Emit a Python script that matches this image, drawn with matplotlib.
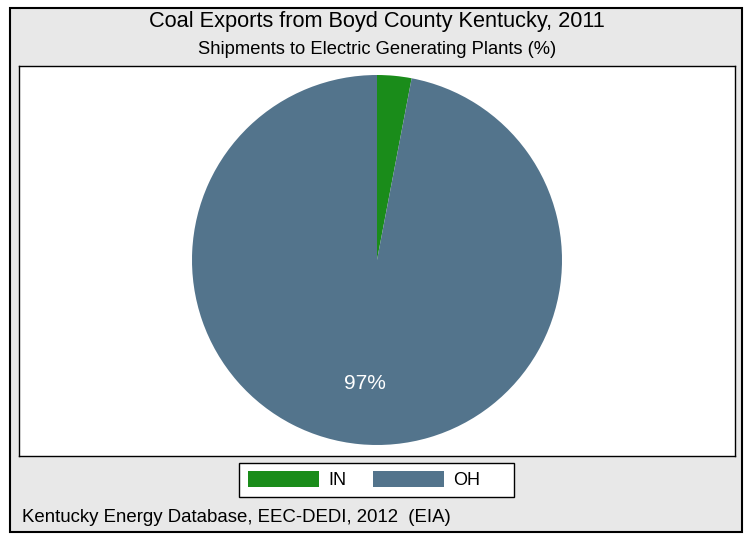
import matplotlib
matplotlib.use("Agg")
import matplotlib.pyplot as plt
from matplotlib.patches import Rectangle, Patch

states = ["IN", "OH"]
shares = [3, 97]
colors = ["#1a8c1a", "#53748c"]
title = "Coal Exports from Boyd County Kentucky, 2011"
subtitle = "Shipments to Electric Generating Plants (%)"
footnote = "Kentucky Energy Database, EEC-DEDI, 2012  (EIA)"

plt.rcParams['font.family'] = ['Liberation Sans', 'DejaVu Sans']
W, H = 745, 534
fig = plt.figure(figsize=(W/100, H/100), dpi=100)
fig.patch.set_facecolor("white")

# outer gray frame
fig.patches.append(Rectangle((10/W, 2/H), 732/W, 524/H, transform=fig.transFigure,
                             facecolor="#e8e8e8", edgecolor="black", linewidth=1.5, zorder=-5))
# legend box
fig.patches.append(Rectangle((239/W, 1-497/H), 275/W, 34/H, transform=fig.transFigure,
                             facecolor="white", edgecolor="black", linewidth=1.0, zorder=-4))

fig.text(377/W, 1-22/H, title, ha="center", va="center", fontsize=15.7)
fig.text(377/W, 1-49/H, subtitle, ha="center", va="center", fontsize=13.2)
fig.text(22/W, 1-518/H, footnote, ha="left", va="center", fontsize=13.4)

pl, pr, pt, pb = 19, 735, 66, 456
ax = fig.add_axes([pl/W, 1-pb/H, (pr-pl)/W, (pb-pt)/H])
ax.set_zorder(1)

def fmt(p):
    return f"{p:.0f}%" if p > 50 else ""

wedges, texts, autotexts = ax.pie(shares, colors=colors, startangle=90, counterclock=False,
                                  center=(377-pl, pb-260), radius=185, autopct=fmt,
                                  pctdistance=0.67, frame=True,
                                  textprops=dict(color="white", fontsize=15))
ax.set_facecolor("white")
ax.set_xlim(0, pr-pl)
ax.set_ylim(0, pb-pt)
ax.set_aspect("auto")
ax.set_xticks([]); ax.set_yticks([])
for s in ax.spines.values():
    s.set_visible(True); s.set_linewidth(1.0); s.set_color("black")

handles = [Patch(facecolor=c, edgecolor="none", label=s) for s, c in zip(states, colors)]
leg = fig.legend(handles=handles, loc="center left", bbox_to_anchor=(234/W, 1-480/H), ncol=2,
                 frameon=False, fontsize=13, handlelength=3.9, handleheight=1.0,
                 columnspacing=1.45, handletextpad=0.55, borderpad=0.3)

fig.savefig("out.png", dpi=100)
